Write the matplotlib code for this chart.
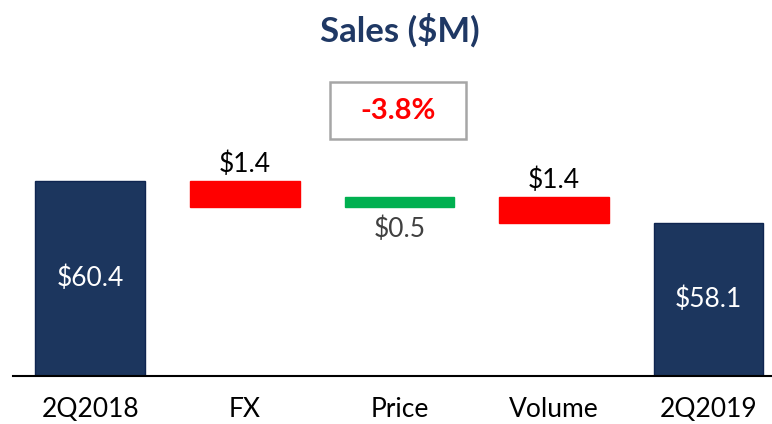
import matplotlib.pyplot as plt
from matplotlib.patches import Rectangle
import numpy as np

categories = ['2Q2018', 'FX', 'Price', 'Volume', '2Q2019']
values = [60.4, -1.4, 0.5, -1.4, 58.1]
labels = ['$60.4', '$1.4', '$0.5', '$1.4', '$58.1']
change_text = '-3.8%'

navy = '#1C365E'
red = '#FF0000'
green = '#00B050'

plt.rcParams['font.family'] = ['Lato', 'DejaVu Sans']

ymin = 49.72
fig = plt.figure(figsize=(7.72, 4.24), dpi=100)
ax = fig.add_axes([13/772, 48/424, 759/772, 316/424])

x = np.arange(len(categories))
bottoms = []
heights = []
colors = []
run = 0.0
for i, v in enumerate(values):
    if i == 0 or i == len(values) - 1:
        bottoms.append(ymin)
        heights.append(v - ymin)
        colors.append(navy)
        run = v
    else:
        if v < 0:
            bottoms.append(run + v)
            colors.append(red)
        else:
            bottoms.append(run)
            colors.append(green)
        heights.append(abs(v))
        run = run + v

edges = ['#0F2550' if c == navy else c for c in colors]
ax.bar(x, heights, bottom=bottoms, width=0.71, color=colors,
       edgecolor=edges, linewidth=1.0, zorder=2)

for i in range(len(values)):
    top = bottoms[i] + heights[i]
    if colors[i] == navy:
        ax.text(x[i], (bottoms[i] + top) / 2, labels[i], ha='center', va='center',
                color='white', fontsize=19)
    elif colors[i] == red:
        ax.annotate(labels[i], (x[i], top), xytext=(0, 3), textcoords='offset points',
                    ha='center', va='bottom', fontsize=19, color='black')
    else:
        ax.annotate(labels[i], (x[i], bottoms[i]), xytext=(0, -7), textcoords='offset points',
                    ha='center', va='top', fontsize=19, color='#404040')

ax.set_xlim(-0.5, 4.41)
ax.set_ylim(ymin, ymin + 316/18.26)
ax.set_xticks(x)
ax.set_xticklabels(categories, fontsize=19)
ax.tick_params(axis='x', length=0, pad=15)
ax.set_yticks([])
for s in ['top', 'right', 'left']:
    ax.spines[s].set_visible(False)
ax.spines['bottom'].set_linewidth(1.5)
ax.spines['bottom'].set_zorder(3)

fig.text(400/772, 1 - 30/424, 'Sales ($M)', ha='center', va='center',
         fontsize=25, fontweight='bold', color='#1F3864')

# change box
fig.patches.append(Rectangle((330/772, 1 - 139/424), 136/772, 57/424,
                             transform=fig.transFigure, facecolor='white',
                             edgecolor='#A6A6A6', linewidth=1.8))
fig.text(398/772, 1 - 111/424, change_text, ha='center', va='center',
         fontsize=21, fontweight='bold', color=red)

fig.savefig('out.png', dpi=100)
